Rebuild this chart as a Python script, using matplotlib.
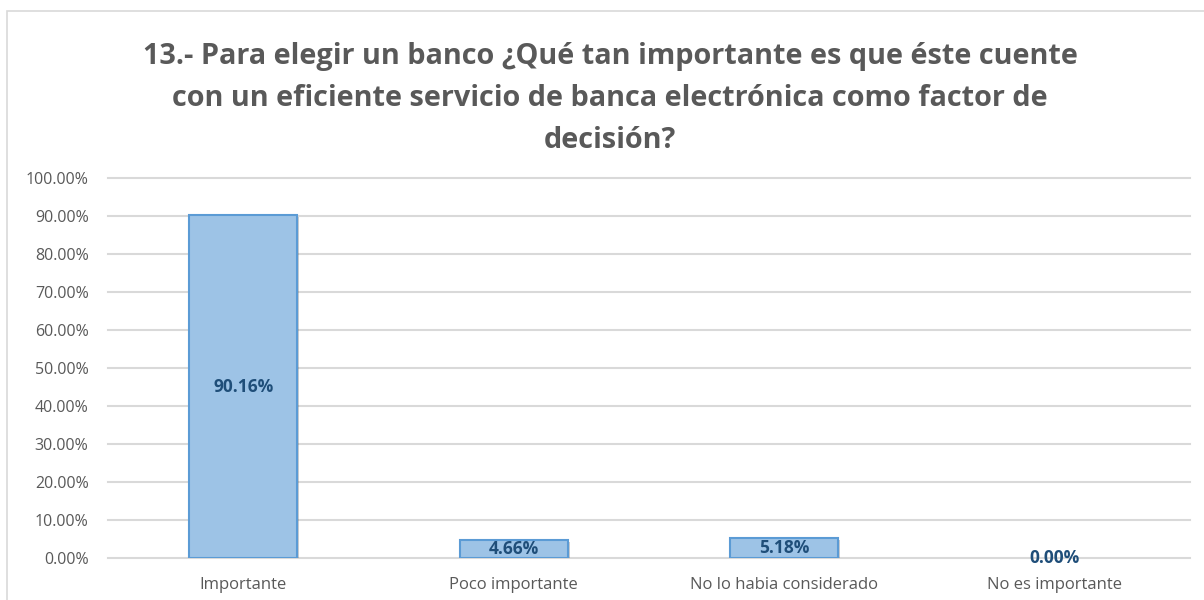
import matplotlib
matplotlib.use('Agg')
import matplotlib.pyplot as plt
from matplotlib.patches import Rectangle
import matplotlib.patheffects as pe

# Data
categories = ['Importante', 'Poco importante', 'No lo habia considerado', 'No es importante']
values     = [90.16, 4.66, 5.18, 0.00]
yticks     = [0, 10, 20, 30, 40, 50, 60, 70, 80, 90, 100]

title = ('13.- Para elegir un banco ¿Qué tan importante es que éste cuente\n'
         'con un eficiente servicio de banca electrónica como factor de\n'
         'decisión?')

# Style
FONT       = 'Open Sans'
GREY_TXT   = '#595959'
GRID       = '#D9D9D9'
BAR_FILL   = '#9DC3E6'
BAR_EDGE   = '#5B9BD5'
LABEL_CLR  = '#1F4E79'

plt.rcParams['font.family'] = [FONT, 'DejaVu Sans']

fig = plt.figure(figsize=(12.04, 6.0), dpi=100)
ax = fig.add_axes([108/1204, 1 - 558/600, (1190 - 108)/1204, (558 - 178)/600])

# chart frame
fig.patches.append(Rectangle((7/1204, -0.1), 1.2, 1 - 11/600 + 0.1,
                             transform=fig.transFigure, fill=False,
                             edgecolor='#D9D9D9', linewidth=1.2, zorder=0))

x = list(range(len(categories)))
bars = ax.bar(x, values, width=0.4, color=BAR_FILL, edgecolor=BAR_EDGE,
              linewidth=1.5, zorder=3)
for b, v in zip(bars, values):
    if v == 0:
        b.set_visible(False)
        continue
    b.set_path_effects([pe.SimplePatchShadow(offset=(1.5, -1.5), alpha=0.25),
                        pe.Normal()])

for xi, v in zip(x, values):
    ax.text(xi, v / 2, f'{v:.2f}%', ha='center', va='center',
            fontsize=12.5, fontweight='bold', color=LABEL_CLR, zorder=4)

ax.set_xlim(-0.5, len(categories) - 0.5)
ax.set_ylim(0, 100)
ax.set_yticks(yticks)
ax.set_yticklabels([f'{t:.2f}%' for t in yticks])
ax.set_xticks(x)
ax.set_xticklabels(categories)
ax.tick_params(axis='both', length=0, colors=GREY_TXT, labelsize=11.5)
ax.tick_params(axis='x', labelsize=12, pad=14)
ax.tick_params(axis='y', pad=14)

ax.yaxis.grid(True, color=GRID, linewidth=1.5, zorder=0)
for gl in ax.get_ygridlines():
    gl.set_clip_on(False)
ax.set_axisbelow(True)
for s in ax.spines.values():
    s.set_visible(False)

fig.text(610/1204, 1 - 42/600, title, ha='center', va='top', fontsize=20.8,
         fontweight='bold', color=GREY_TXT, linespacing=1.58)

fig.savefig('out.png', dpi=100)
